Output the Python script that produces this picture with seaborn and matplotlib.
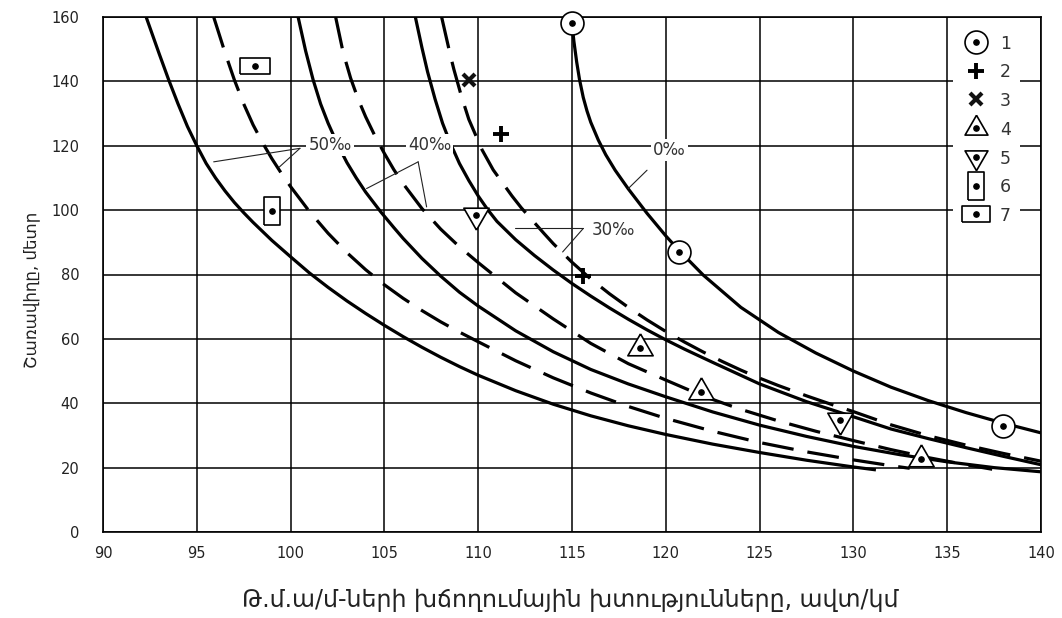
import matplotlib
matplotlib.use("Agg")
import matplotlib.pyplot as plt
import seaborn as sns
from matplotlib.lines import Line2D

# ---------------- data ----------------
# 50 per-mille, solid
A_x = [92.3, 93.0, 93.5, 94.0, 94.5, 95.0, 95.5, 96.0, 96.5, 97.0, 97.5, 98.0, 99.0, 100.0, 101.0,
       102.0, 103.0, 104.0, 105.0, 106.0, 107.0, 108.0, 109.0, 110.0, 112.0, 114.0, 116.0, 118.0,
       120.0, 122.5, 125.0, 127.5, 130.0, 131.2]
A_y = [160, 148.5, 140.5, 133, 126, 120, 114.5, 110, 106, 102.4, 99.2, 96.2, 90.6, 85.5, 80.5,
       76, 71.8, 67.9, 64.2, 60.7, 57.4, 54.3, 51.4, 48.7, 43.9, 39.7, 36.1, 33.0,
       30.3, 27.3, 24.7, 22.3, 20.2, 19.3]
# 50 per-mille, dashed
B_x = [95.9, 96.5, 97.0, 97.5, 98.0, 98.5, 99.0, 99.5, 100.0, 101.0, 102.0, 103.0, 104.0, 105.0,
       106.0, 107.0, 108.0, 109.0, 110.0, 112.0, 114.0, 116.0, 118.0, 120.0, 122.5, 125.0, 127.5,
       130.0, 132.0, 133.0]
B_y = [160, 149, 140.5, 133, 126.5, 121, 116, 111.5, 107.3, 99.6, 92.8, 86.8, 81.5, 76.8,
       72.6, 68.8, 65.3, 62.1, 59.1, 53.2, 47.9, 43.2, 39.0, 35.3, 31.3, 27.8, 24.9,
       22.4, 20.6, 19.8]
# 40 per-mille, solid
C_x = [100.4, 100.8, 101.2, 101.6, 102.0, 102.5, 103.0, 103.5, 104.0, 104.8, 105.5, 106.0, 107.0,
       108.0, 109.0, 110.0, 112.0, 114.0, 116.0, 118.0, 120.0, 122.5, 125.0, 127.5, 130.0, 132.5,
       135.0, 137.5, 140.0]
C_y = [160, 149.5, 140.5, 133, 127, 120.5, 114.8, 110, 105.6, 99.5, 94.6, 91.2, 85,
       79.5, 74.5, 70.2, 62.5, 56.0, 50.5, 46.0, 42.0, 37.3, 33.2, 29.7, 26.6, 24.0,
       21.8, 20.0, 18.7]
# 40 per-mille, dashed
D_x = [102.4, 102.8, 103.2, 103.6, 104.0, 104.5, 105.0, 105.5, 106.0, 107.0, 108.0, 109.0, 110.0,
       112.0, 114.0, 116.0, 118.0, 120.0, 122.0, 124.0, 126.0, 128.0, 130.0, 132.0, 134.0, 136.0,
       137.4]
D_y = [160, 149, 141, 134.5, 129, 123, 117.6, 112.6, 108.2, 100.5, 94.1, 88.6, 83.7,
       74.3, 66.2, 58.6, 52.3, 47.2, 42.2, 38.1, 34.5, 31.3, 28.4, 25.6, 23.1, 20.9,
       19.5]
# 30 per-mille, solid
E_x = [106.65, 107.0, 107.3, 107.7, 108.1, 108.5, 109.0, 109.5, 110.0, 110.5, 111.0, 112.0, 113.0,
       114.0, 115.0, 116.0, 117.0, 118.0, 119.0, 120.0, 121.0, 122.5, 125.0, 127.5, 130.0, 132.0,
       134.0, 136.0, 138.0, 140.0]
E_y = [160, 150.5, 143, 134.5, 127, 121, 114.5, 109.2, 104.4, 100.2, 96.5, 90.8, 85.9,
       81.4, 77.2, 73.3, 69.6, 66.1, 62.8, 59.7, 56.8, 52.7, 46.0, 40.5, 35.8, 32.0,
       29.0, 26.2, 23.5, 20.9]
# 30 per-mille, dashed
F_x = [108.05, 108.5, 108.7, 109.1, 109.5, 110.2, 110.8, 111.8, 112.3, 113.5, 114.0, 115.0, 116.0,
       117.0, 118.0, 119.0, 120.0, 121.0, 122.0, 123.0, 124.0, 125.0, 126.0, 127.5, 129.0, 130.0,
       132.0, 134.0, 136.0, 138.0, 140.0]
F_y = [160, 148.5, 143.8, 135.5, 128.2, 118.8, 112.5, 104.4, 100.7, 92.8, 89.6, 83.8, 78.6,
       74.0, 69.8, 65.9, 62.3, 59.0, 55.9, 53.0, 50.3, 47.8, 45.5, 42.3, 39.3, 37.4,
       33.3, 29.9, 27.0, 24.4, 22.0]
# 0 per-mille, solid
G_x = [115.0, 115.1, 115.25, 115.4, 115.6, 115.8, 116.0, 116.4, 116.8, 117.3, 118.0, 119.0, 120.0,
       120.7, 122.0, 124.0, 126.0, 128.0, 130.0, 132.0, 134.0, 136.0, 138.0, 140.0]
G_y = [158, 152.5, 146, 140.6, 135, 130.8, 127.3, 121.8, 117.2, 112.4, 106.6, 99, 92.0,
       87.5, 79.8, 69.8, 62, 55.6, 50, 45.0, 40.8, 37.1, 33.8, 30.8]

# observation points (legend groups 1..7)
p1_x = [115.0, 120.7, 138.0]
p1_y = [158.0, 87.0, 33.0]
p2_x = [111.2, 115.6]
p2_y = [123.5, 79.5]
p3_x = [109.5]
p3_y = [140.4]
p4_x = [118.6, 121.9, 133.6]
p4_y = [57.2, 43.6, 22.8]
p5_x = [109.9, 129.3]
p5_y = [98.4, 34.8]
p6_x = [99.0]
p6_y = [99.8]
p7_x = [98.1]
p7_y = [144.8]

legend_labels = ["1", "2", "3", "4", "5", "6", "7"]
curve_labels = ["50‰", "40‰", "30‰", "0‰"]
x_ticks = [90, 95, 100, 105, 110, 115, 120, 125, 130, 135, 140]
y_ticks = [0, 20, 40, 60, 80, 100, 120, 140, 160]
x_title = "Թ.մ.ա/մ-ների խճողումային խտությունները, ավտ/կմ"
y_title = "Շառավիղը, մետր"

# ---------------- figure ----------------
sns.set_style("white")
plt.rcParams["font.family"] = ["DejaVu Sans"]

fig = plt.figure(figsize=(10.62, 6.18), dpi=100)
ax = fig.add_axes([103 / 1062, 1 - 532 / 618, 938 / 1062, 515 / 618])

LW = 2.3
curves = [(A_x, A_y, False), (B_x, B_y, True), (C_x, C_y, False), (D_x, D_y, True),
          (E_x, E_y, False), (F_x, F_y, True), (G_x, G_y, False)]
for cx, cy, dashed in curves:
    sns.lineplot(x=cx, y=cy, ax=ax, color="black", linewidth=LW, estimator=None,
                 sort=False, legend=False, zorder=2)
    ln = ax.lines[-1]
    ln.set_solid_capstyle("butt")
    ln.set_solid_joinstyle("round")
    if dashed:
        ln.set_dashes([10, 4.4])
        ln.set_dash_capstyle("butt")

ax.set_xlim(90, 140)
ax.set_ylim(0, 160)
ax.set_xticks(x_ticks)
ax.set_yticks(y_ticks)
ax.grid(True, color="black", linewidth=1.1)
ax.set_axisbelow(True)
ax.tick_params(axis="both", length=0, labelsize=10.5, colors="#222222")
ax.tick_params(axis="y", pad=17)
ax.tick_params(axis="x", pad=10)
for s in ax.spines.values():
    s.set_color("black")
    s.set_linewidth(1.2)
    s.set_visible(True)

ax.set_xlabel(x_title, fontsize=17, color="#222222")
ax.set_ylabel(y_title, fontsize=12, color="#222222")
ax.xaxis.set_label_coords(0.498, -0.108)
ax.yaxis.set_label_coords(-0.067, 0.47)

# ---------------- markers ----------------
TRI_UP = [(0, 1), (-0.866, -0.5), (0.866, -0.5), (0, 1)]
TRI_DN = [(0, -1), (-0.866, 0.5), (0.866, 0.5), (0, -1)]
RECT_T = [(-0.6, -1), (0.6, -1), (0.6, 1), (-0.6, 1), (-0.6, -1)]
RECT_W = [(-1, -0.55), (1, -0.55), (1, 0.55), (-1, 0.55), (-1, -0.55)]

open_kw = dict(ls="none", mfc="white", mec="black", mew=1.2, zorder=5, clip_on=False)
dot_kw = dict(ls="none", marker="o", ms=3.8, color="black", zorder=6, clip_on=False)

specs = {
    "1": dict(marker="o", ms=16.5, **open_kw),
    "4": dict(marker=TRI_UP, ms=21, **open_kw),
    "5": dict(marker=TRI_DN, ms=21, **open_kw),
    "6": dict(marker=RECT_T, ms=20, **open_kw),
    "7": dict(marker=RECT_W, ms=21, **open_kw),
}
pts = {"1": (p1_x, p1_y), "4": (p4_x, p4_y), "5": (p5_x, p5_y),
       "6": (p6_x, p6_y), "7": (p7_x, p7_y)}
for k, (px, py) in pts.items():
    ax.plot(px, py, **specs[k])
    ax.plot(px, py, **dot_kw)
plus_kw = dict(ls="none", marker="+", ms=11, mew=2.8, color="black", zorder=6)
x_kw = dict(ls="none", marker="x", ms=9, mew=3.0, color="#111111", zorder=6)
ax.plot(p2_x, p2_y, **plus_kw)
ax.plot(p3_x, p3_y, **x_kw)

# ---------------- curve labels with leaders ----------------
tkw = dict(fontsize=12, color="#333333", ha="center", va="center", zorder=7,
           bbox=dict(boxstyle="square,pad=0.12", fc="white", ec="none"))
ax.text(102.1, 120.2, curve_labels[0], **tkw)
ax.text(107.4, 120.2, curve_labels[1], **tkw)
ax.text(117.2, 93.8, curve_labels[2], **tkw)
ax.text(120.2, 118.6, curve_labels[3], **tkw)
lkw = dict(color="#222222", lw=0.8, zorder=4)
ax.plot([100.5, 95.9], [119.2, 115.0], **lkw)
ax.plot([100.5, 99.4], [119.2, 113.4], **lkw)
ax.plot([106.8, 104.05], [115.0, 106.7], **lkw)
ax.plot([106.8, 107.25], [115.0, 101.0], **lkw)
ax.plot([115.6, 111.96], [94.3, 94.3], **lkw)
ax.plot([115.6, 114.5], [94.3, 87.0], **lkw)
ax.plot([119.0, 118.0], [112.4, 106.7], **lkw)

# ---------------- legend ----------------
def h(spec):
    return Line2D([], [], **{k: v for k, v in spec.items() if k not in ("zorder", "clip_on")})

dot_h = h(dot_kw)
leg_specs = dict(specs)
leg_specs["4"] = dict(marker=TRI_UP, ms=19, **open_kw)
leg_specs["5"] = dict(marker=TRI_DN, ms=19, **open_kw)
leg_specs["7"] = dict(marker=RECT_W, ms=20, **open_kw)
handles = [
    (h(leg_specs["1"]), dot_h),
    h(plus_kw),
    h(x_kw),
    (h(leg_specs["4"]), dot_h),
    (h(leg_specs["5"]), dot_h),
    (h(leg_specs["6"]), dot_h),
    (h(leg_specs["7"]), dot_h),
]
leg = ax.legend(handles, legend_labels, loc="upper left",
                bbox_to_anchor=((953 - 103) / 938, (532 - 26) / 515),
                frameon=True, fancybox=False, framealpha=1, facecolor="white",
                edgecolor="none", fontsize=12.5, handlelength=1.6, handleheight=1.0,
                labelspacing=0.62, handletextpad=0.6, borderpad=0.5, borderaxespad=0)
for t in leg.get_texts():
    t.set_color("#333333")
leg.set_zorder(8)

fig.savefig("out.png", dpi=100)
